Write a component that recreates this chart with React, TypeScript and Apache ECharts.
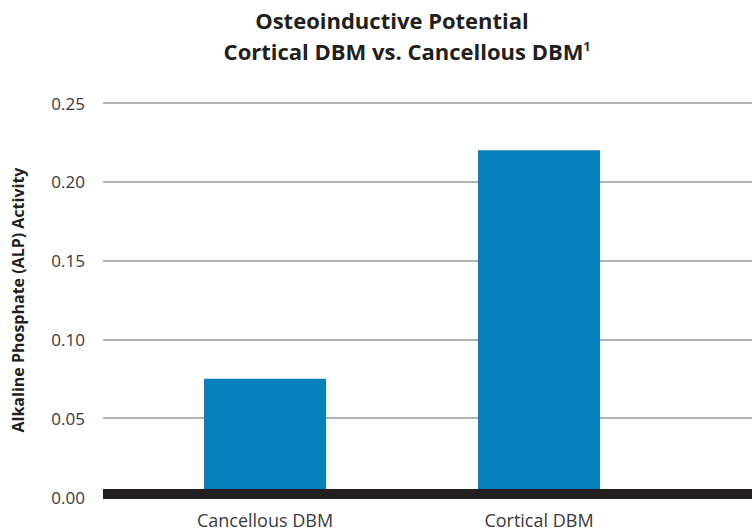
import React, { useEffect, useRef } from "react";
import * as echarts from "echarts";

const categories = ["Cancellous DBM", "Cortical DBM"];
const alpValues = [0.075, 0.22];
const yTicks = [0, 0.05, 0.1, 0.15, 0.2, 0.25];
const titleLine1 = "Osteoinductive Potential";
const titleLine2 = "Cortical DBM vs. Cancellous DBM";
const yAxisTitle = "Alkaline Phosphate (ALP) Activity";

export default function App() {
  const ref = useRef<HTMLDivElement>(null);
  useEffect(() => {
    document.body.style.margin = "0";
    const chart = echarts.init(ref.current!, null, { renderer: "svg" });
    const font = "Open Sans";
    chart.setOption({
      animation: false,
      backgroundColor: "#ffffff",
      graphic: [
        {
          type: "text",
          x: 392,
          y: 20,
          style: {
            text: titleLine1,
            font: `bold 22px "${font}"`,
            fill: "#231f20",
            align: "center",
            verticalAlign: "middle",
          },
        },
        {
          type: "text",
          x: 407,
          y: 51,
          style: {
            text: `${titleLine2}{sup|1}`,
            font: `bold 22px "${font}"`,
            fill: "#231f20",
            align: "center",
            verticalAlign: "middle",
            rich: {
              sup: { fontSize: 12, fontWeight: "bold", fontFamily: font, fill: "#231f20", padding: [0, 0, 10, 0] },
            },
          },
        },
      ],
      grid: [
        { left: 103, right: 0, top: 103, bottom: 34 },
        { left: 128, right: 76, top: 103, bottom: 34 },
      ],
      xAxis: [
        {
          gridIndex: 0,
          type: "value",
          min: 0,
          max: 1,
          offset: -3,
          z: 10,
          axisLine: { show: true, lineStyle: { color: "#231f20", width: 10, cap: "butt" } },
          axisTick: { show: false },
          axisLabel: { show: false },
          splitLine: { show: false },
        },
        {
          gridIndex: 1,
          type: "category",
          data: categories,
          axisLine: { show: false },
          axisTick: { show: false },
          axisLabel: { margin: 14, fontSize: 18, fontFamily: font, color: "#3a3a3a" },
        },
      ],
      yAxis: [
        {
          gridIndex: 0,
          type: "value",
          min: yTicks[0],
          max: yTicks[yTicks.length - 1],
          interval: 0.05,
          name: yAxisTitle,
          nameLocation: "middle",
          nameGap: 77,
          nameTextStyle: { fontSize: 16, fontWeight: "bold", fontFamily: font, color: "#231f20" },
          axisLine: { show: false },
          axisTick: { show: false },
          axisLabel: {
            margin: 18,
            fontSize: 17,
            fontFamily: font,
            color: "#3a3a3a",
            formatter: (v: number) => v.toFixed(2),
          },
          splitLine: { show: true, lineStyle: { color: "#9a9a9a", width: 1.5 } },
        },
        {
          gridIndex: 1,
          type: "value",
          min: yTicks[0],
          max: yTicks[yTicks.length - 1],
          show: false,
          splitLine: { show: false },
        },
      ],
      series: [
        {
          type: "bar",
          xAxisIndex: 1,
          yAxisIndex: 1,
          data: alpValues,
          barWidth: 122,
          itemStyle: { color: "#0781be" },
        },
      ],
    });
    return () => chart.dispose();
  }, []);
  return <div ref={ref} style={{ width: 752, height: 531 }} />;
}
